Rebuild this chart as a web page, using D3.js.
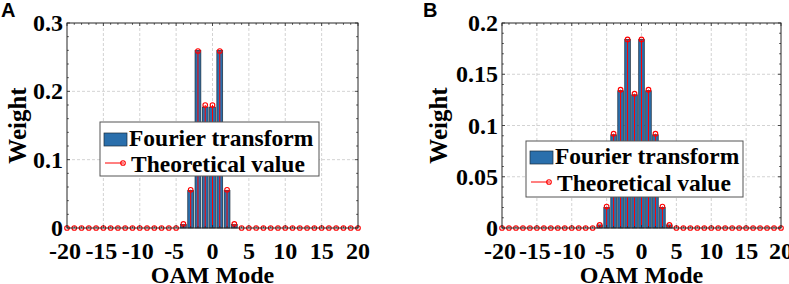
<!DOCTYPE html>
<html lang="en">
<head>
<meta charset="utf-8">
<title>OAM Mode Weights</title>
<style>
  body { margin: 0; background: #fff; }
  svg { display: block; }
  text { font-family: "Liberation Serif", "Times New Roman", serif; font-weight: bold; fill: #000; }
  .panel-letter { font-family: "Liberation Sans", Arial, sans-serif; font-size: 20px; }
</style>
<script src="https://d3js.org/d3.v7.min.js"></script>
</head>
<body>
<script>
// OAM modes (categories)
const modes = [-20,-19,-18,-17,-16,-15,-14,-13,-12,-11,-10,-9,-8,-7,-6,-5,-4,-3,-2,-1,
               0,1,2,3,4,5,6,7,8,9,10,11,12,13,14,15,16,17,18,19,20];

// panel A
const fourierA = [0,0,0,0,0,0,0,0,0,0,0,0,0,0,0,0,
                  0.005,0.055,0.260,0.177,0.177,0.260,0.055,0.005,
                  0,0,0,0,0,0,0,0,0,0,0,0,0,0,0,0,0];
const theoryA  = [0,0,0,0,0,0,0,0,0,0,0,0,0,0,0,0,
                  0.006,0.056,0.259,0.180,0.180,0.259,0.056,0.006,
                  0,0,0,0,0,0,0,0,0,0,0,0,0,0,0,0,0];

// panel B
const fourierB = [0,0,0,0,0,0,0,0,0,0,0,0,0,0,
                  0.003,0.020,0.091,0.134,0.184,0.130,0.184,0.134,0.091,0.020,0.003,
                  0,0,0,0,0,0,0,0,0,0,0,0,0,0,0,0];
const theoryB  = [0,0,0,0,0,0,0,0,0,0,0,0,0,0,
                  0.003,0.021,0.092,0.135,0.184,0.131,0.184,0.135,0.092,0.021,0.003,
                  0,0,0,0,0,0,0,0,0,0,0,0,0,0,0,0];

const xTicks = [-20,-15,-10,-5,0,5,10,15,20];
const yTicksA = [0,0.1,0.2,0.3];
const yTicksB = [0,0.05,0.1,0.15,0.2];
const legendLabels = ["Fourier transform","Theoretical value"];

const svg = d3.select("body").append("svg")
  .attr("width",789).attr("height",284);

const barFill = "#2a6fac", barEdge = "#1c2b3a", stemColor = "#ff0000", axisColor = "#262626";

function drawPanel(p){
  const x = d3.scaleLinear().domain([-20,20]).range([p.left,p.right]);
  const y = d3.scaleLinear().domain([0,p.yMax]).range([p.bottom,p.top]);
  const g = svg.append("g");
  const pitch = x(1)-x(0);

  // grid
  g.append("g").selectAll("line").data(xTicks.slice(1,-1)).join("line")
    .attr("x1",d=>x(d)).attr("x2",d=>x(d)).attr("y1",p.top).attr("y2",p.bottom)
    .attr("stroke","#c8c8c8").attr("stroke-width",0.8).attr("stroke-dasharray","3,2");
  g.append("g").selectAll("line").data(p.yTicks.slice(1,-1)).join("line")
    .attr("y1",d=>y(d)).attr("y2",d=>y(d)).attr("x1",p.left).attr("x2",p.right)
    .attr("stroke","#c8c8c8").attr("stroke-width",0.8).attr("stroke-dasharray","3,2");

  // bars
  g.append("g").selectAll("rect").data(modes.map((m,i)=>({m,v:p.fourier[i]})).filter(d=>d.v>0)).join("rect")
    .attr("x",d=>x(d.m)-pitch*0.4).attr("width",pitch*0.8)
    .attr("y",d=>y(d.v)).attr("height",d=>y(0)-y(d.v))
    .attr("fill",barFill).attr("stroke",barEdge).attr("stroke-width",0.7);

  // stems
  const pts = modes.map((m,i)=>({m,v:p.theory[i]}));
  g.append("g").selectAll("line").data(pts.filter(d=>d.v>0)).join("line")
    .attr("x1",d=>x(d.m)).attr("x2",d=>x(d.m)).attr("y1",y(0)).attr("y2",d=>y(d.v))
    .attr("stroke",stemColor).attr("stroke-width",1);
  g.append("g").selectAll("circle").data(pts).join("circle")
    .attr("cx",d=>x(d.m)).attr("cy",d=>y(d.v)).attr("r",2.3)
    .attr("fill","none").attr("stroke",stemColor).attr("stroke-width",1.1);

  // box and ticks
  g.append("rect").attr("x",p.left).attr("y",p.top)
    .attr("width",p.right-p.left).attr("height",p.bottom-p.top)
    .attr("fill","none").attr("stroke",axisColor).attr("stroke-width",1);

  const xMinor = modes.filter(m=>!xTicks.includes(m));
  const ticks = g.append("g").attr("stroke",axisColor).attr("stroke-width",0.8);
  [[xTicks,3],[xMinor,1.8]].forEach(([arr,len])=>{
    arr.forEach(t=>{
      ticks.append("line").attr("x1",x(t)).attr("x2",x(t)).attr("y1",p.bottom).attr("y2",p.bottom-len);
      ticks.append("line").attr("x1",x(t)).attr("x2",x(t)).attr("y1",p.top).attr("y2",p.top+len);
    });
  });
  const yMinor = d3.range(0,p.yMax+1e-9,p.yMinorStep).filter(v=>!p.yTicks.some(t=>Math.abs(t-v)<1e-9));
  [[p.yTicks,3],[yMinor,1.8]].forEach(([arr,len])=>{
    arr.forEach(t=>{
      ticks.append("line").attr("y1",y(t)).attr("y2",y(t)).attr("x1",p.left).attr("x2",p.left+len);
      ticks.append("line").attr("y1",y(t)).attr("y2",y(t)).attr("x1",p.right).attr("x2",p.right-len);
    });
  });

  // tick labels
  g.append("g").selectAll("text").data(xTicks).join("text")
    .attr("x",d=>x(d)-(d<0?2:0)).attr("y",p.bottom+31).attr("text-anchor","middle")
    .style("font-size","24px").text(d=>d);
  g.append("g").selectAll("text").data(p.yTicks).join("text")
    .attr("x",p.left-4).attr("y",d=>y(d)+8).attr("text-anchor","end")
    .style("font-size","24px").text(d=>d);

  // axis titles
  g.append("text").attr("x",(p.left+p.right)/2).attr("y",283).attr("text-anchor","middle")
    .style("font-size","24px").text("OAM Mode");
  g.append("text").attr("transform",`translate(${p.yTitleX},${(p.top+p.bottom)/2}) rotate(-90)`)
    .attr("text-anchor","middle").style("font-size","25px").text("Weight");

  // panel letter
  g.append("text").attr("class","panel-letter").attr("x",p.letterX).attr("y",17).text(p.letter);

  // legend
  const L = p.legend;
  const lg = g.append("g");
  lg.append("rect").attr("x",L.x).attr("y",L.y).attr("width",L.w).attr("height",L.h)
    .attr("fill","#fff").attr("stroke","#555").attr("stroke-width",1);
  lg.append("rect").attr("x",L.x+4).attr("y",L.y+L.row1-13).attr("width",23).attr("height",13)
    .attr("fill",barFill).attr("stroke",barEdge).attr("stroke-width",0.7);
  lg.append("line").attr("x1",L.x+5).attr("x2",L.x+24).attr("y1",L.y+L.row2-9).attr("y2",L.y+L.row2-9)
    .attr("stroke",stemColor).attr("stroke-width",1);
  lg.append("circle").attr("cx",L.x+23).attr("cy",L.y+L.row2-9).attr("r",2.3)
    .attr("fill","none").attr("stroke",stemColor).attr("stroke-width",1.1);
  lg.append("text").attr("x",L.x+29).attr("y",L.y+L.row1).style("font-size","23.5px").text(legendLabels[0]);
  lg.append("text").attr("x",L.x+31).attr("y",L.y+L.row2).style("font-size","23.5px").text(legendLabels[1]);
}

drawPanel({
  letter:"A", letterX:1, left:67, right:358, top:23, bottom:228, yMax:0.3, yMinorStep:0.02,
  yTicks:yTicksA, fourier:fourierA, theory:theoryA, yTitleX:26,
  legend:{x:100, y:122, w:219, h:54, row1:24, row2:50}
});
drawPanel({
  letter:"B", letterX:423, left:502, right:781, top:23, bottom:228, yMax:0.2, yMinorStep:0.01,
  yTicks:yTicksB, fourier:fourierB, theory:theoryB, yTitleX:447,
  legend:{x:526, y:141, w:217, h:56, row1:23, row2:50}
});
</script>
</body>
</html>
